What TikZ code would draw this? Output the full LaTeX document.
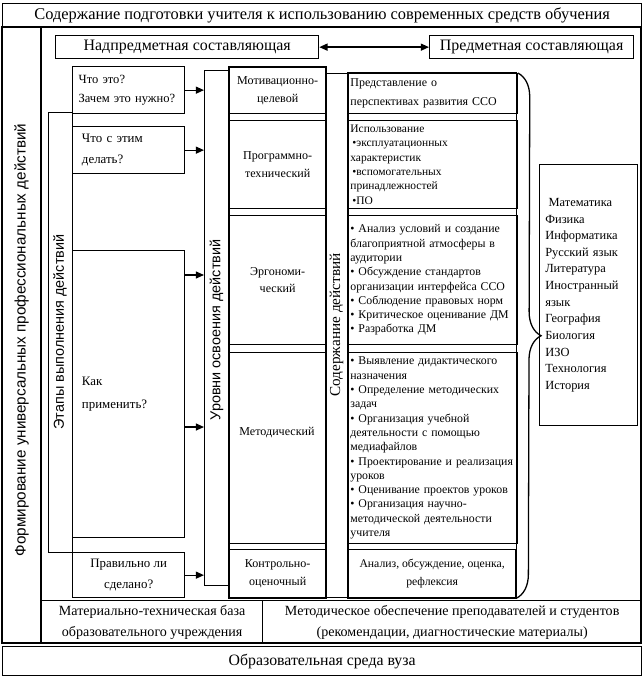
\documentclass[tikz,border=0pt]{standalone}
\usepackage{fontspec}
\setmainfont{Liberation Serif}
\newfontfamily\sansrus{Liberation Sans}
\usetikzlibrary{arrows.meta,positioning,decorations.pathreplacing}

\tikzset{
  box/.style={draw, line width=1.1pt, inner sep=2pt, anchor=north west},
  arr/.style={-{Triangle[length=7pt,width=6pt]}, line width=1.1pt},
  vlab/.style={rotate=90, font=\sansrus\fontsize{12.3}{14}\selectfont},
  qtext/.style={font=\fontsize{10.7}{16}\selectfont, text width=2.8cm, align=left},
  ltext/.style={font=\fontsize{10.3}{15}\selectfont, align=center},
  ctext/.style={font=\fontsize{10.1}{12.2}\selectfont, text width=4.95cm, align=left, inner sep=1.5pt},
}

\begin{document}
\begin{tikzpicture}[x=0.03cm, y=-0.03cm, line width=1.1pt]
  \useasboundingbox (0,0) rectangle (643,677);
  % outer frame
  \node[box, minimum width=19.17cm, minimum height=0.72cm, font=\fontsize{14}{16}\selectfont] (title) at (2,3)
    {Содержание подготовки учителя к использованию современных средств обучения};
  \draw (2,27) rectangle (641,643);
  \draw (41,27) -- (41,643);
  \node[vlab, font=\sansrus\fontsize{13}{15}\selectfont] (form) at (21.5,340) {Формирование универсальных профессиональных действий};
  \node[box, minimum width=6.63cm, minimum height=1.29cm, align=center, font=\fontsize{12}{18}\selectfont] (base) at (41,600)
    {Материально-техническая база\\образовательного учреждения};
  \node[box, minimum width=11.37cm, minimum height=1.29cm, align=center, font=\fontsize{12}{18}\selectfont] (metod) at (262,600)
    {Методическое обеспечение преподавателей и студентов\\(рекомендации, диагностические материалы)};
  \node[box, minimum width=19.17cm, minimum height=0.87cm, font=\fontsize{13.5}{15}\selectfont] (env) at (2,646) {Образовательная среда вуза};

  % components
  \node[box, minimum width=7.89cm, minimum height=0.69cm, font=\fontsize{13.6}{15}\selectfont] (nadp) at (55,35) {Надпредметная составляющая};
  \node[box, minimum width=6.12cm, minimum height=0.69cm, font=\fontsize{13.6}{15}\selectfont] (pred) at (429,35) {Предметная составляющая};
  \draw[{Triangle[length=7pt,width=6pt]}-{Triangle[length=7pt,width=6pt]}] (nadp) -- (pred);

  % stages
  \node[box, minimum width=0.72cm, minimum height=13.2cm] (etapy) at (48,112) {};
  \node[vlab] (etapyt) at (60,332) {Этапы выполнения действий};
  \node[box, minimum width=3.36cm, minimum height=1.41cm, qtext, text width=3.0cm] (q1) at (72,66) {Что это?\\Зачем это нужно?};
  \node[box, minimum width=3.36cm, minimum height=1.41cm, qtext, font=\fontsize{11}{18}\selectfont] (q2) at (72,126) {Что с этим\\делать?};
  \node[box, minimum width=3.36cm, minimum height=8.61cm, qtext, font=\fontsize{11}{19}\selectfont] (q3) at (72,250) {Как\\применить?};
  \node[box, minimum width=3.36cm, minimum height=1.35cm, align=center, font=\fontsize{11}{18}\selectfont] (q4) at (72,552) {Правильно ли\\сделано?};

  % levels
  \node[box, minimum width=0.75cm, minimum height=15.45cm] (lev) at (204,70) {};
  \node[vlab] (levt) at (216.5,330) {Уровни освоения действий};
  \node[box, minimum width=2.88cm, minimum height=1.38cm, ltext] (L1) at (229,67) {Мотивационно-\\целевой};
  \node[box, minimum width=2.88cm, minimum height=2.64cm, ltext] (L2) at (229,120) {Программно-\\технический};
  \node[box, minimum width=2.88cm, minimum height=3.87cm, ltext] (L3) at (229,215) {Эргономи-\\ческий};
  \node[box, minimum width=2.88cm, minimum height=5.73cm] (L4) at (229,352) {};
  \node[ltext] (L4t) at (277,433) {Методический};
  \node[box, minimum width=2.88cm, minimum height=1.44cm, ltext] (L5) at (229,549) {Контрольно-\\оценочный};
  \draw (L1.north west) rectangle (L5.south east);

  \draw[arr] (q1.east) -- (q1.east -| lev.west);
  \draw[arr] (q2.east) -- (q2.east -| lev.west);
  \draw[arr] ([yshift=-0.75cm]q3.north east) -- ([yshift=-0.75cm]q3.north east -| lev.west);
  \draw[arr] ([yshift=-5.31cm]q3.north east) -- ([yshift=-5.31cm]q3.north east -| lev.west);
  \draw[arr] (q4.east) -- (q4.east -| lev.west);

  % content
  \node[box, minimum width=0.69cm, minimum height=15.72cm] (cont) at (325,73) {};
  \node[rotate=90, font=\fontsize{13}{15}\selectfont] (contt) at (336.5,325) {Содержание действий};
  \node[box, minimum width=5.01cm, minimum height=1.2cm, ctext, font=\fontsize{10.2}{16}\selectfont] (c1) at (348,73)
    {Представление о\\перспективах развития ССО};
  \node[box, minimum width=5.01cm, minimum height=2.64cm, ctext, font=\fontsize{9.8}{12.2}\selectfont] (c2) at (348,120)
    {Использование\\\,•эксплуатационных\\характеристик\\\,•вспомогательных\\принадлежностей\\\,•ПО};
  \node[box, minimum width=5.01cm, minimum height=3.87cm, ctext] (c3) at (348,215)
    {• Анализ условий и создание\\благоприятной атмосферы в\\аудитории\\• Обсуждение стандартов\\организации интерфейса ССО\\• Соблюдение правовых норм\\• Критическое оценивание ДМ\\• Разработка ДМ};
  \node[box, minimum width=5.01cm, minimum height=5.73cm, ctext] (c4) at (348,352)
    {• Выявление дидактического\\назначения\\• Определение методических\\задач\\• Организация учебной\\деятельности с помощью\\медиафайлов\\• Проектирование и реализация\\уроков\\• Оценивание проектов уроков\\• Организация научно-\\методической деятельности\\учителя};
  \node[box, minimum width=5.01cm, minimum height=1.44cm, align=center, font=\fontsize{10}{16}\selectfont] (c5) at (348,549)
    {Анализ, обсуждение, оценка,\\рефлексия};
  \draw (c1.north west) rectangle (c5.south east);
  \draw (L1.north east |- cont.north) -- (cont.north west);

  % subjects
  \draw[decorate, decoration={brace, amplitude=0.72cm}] (c1.north east) -- (c5.south east);
  \node[box, minimum width=2.94cm, minimum height=7.83cm, text width=2.6cm, align=left, font=\fontsize{10.6}{14.2}\selectfont] (subj) at (539,164)
    {\hspace*{0.1cm}Математика\\Физика\\Информатика\\Русский язык\\Литература\\Иностранный\\язык\\География\\Биология\\ИЗО\\Технология\\История};
\end{tikzpicture}
\end{document}
